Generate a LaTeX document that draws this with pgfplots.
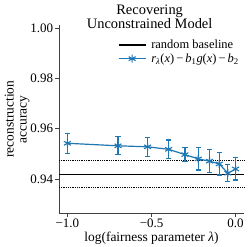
\documentclass[border=0pt]{standalone}
\usepackage{fontspec}
\setmainfont{Liberation Serif}
\usepackage{pgfplots}
\pgfplotsset{compat=1.18}
\definecolor{mblue}{HTML}{1F77B4}
\begin{document}
\begin{tikzpicture}
\path[use as bounding box] (-59bp,-34bp) rectangle (190bp,213bp);
\begin{axis}[
  scale only axis,
  width=185bp, height=187.5bp,
  xmin=-1.05, xmax=0.05,
  ymin=0.9265, ymax=1.001,
  axis x line*=bottom, axis y line*=left,
  axis line style={-, line width=0.6pt, black!75},
  tick align=outside,
  tick style={black!75, line width=0.6pt},
  major tick length=3.5bp,
  xtick={-1,-0.5,0}, xticklabels={−1.0,−0.5,0.0},
  ytick={0.94,0.96,0.98,1.0}, yticklabels={0.94,0.96,0.98,1.00},
  ticklabel style={font=\fontsize{13}{14}\selectfont},
  xticklabel style={yshift=1bp},
  yticklabel style={xshift=1bp},
  xlabel={log(fairness parameter \textit{λ})},
  ylabel={reconstruction\\accuracy},
  label style={font=\fontsize{13.5}{13}\selectfont, align=center},
  xlabel style={yshift=3bp},
  ylabel style={yshift=-6bp},
  title={Recovering\\Unconstrained Model},
  title style={font=\fontsize{14.5}{12.5}\selectfont, align=center, at={(axis description cs:0.49,1.0)}, anchor=south, yshift=-13bp},
  legend style={draw=none, fill=none, at={(axis description cs:1.0,0.945)}, anchor=north east, font=\fontsize{12.5}{12}\selectfont, row sep=-0.5pt, column sep=3bp},
  legend cell align=left,
  legend image code/.code={\draw[mark repeat=2,mark phase=2,#1] plot coordinates {(0bp,0bp) (13.5bp,0bp) (27bp,0bp)};},
  clip=false,
]
\addplot[black, line width=1.2pt, forget plot] coordinates {(-1.05,0.9419) (0.05,0.9419)};
\addplot[black, densely dotted, line width=0.8pt, forget plot] coordinates {(-1.05,0.9475) (0.05,0.9475)};
\addplot[black, densely dotted, line width=0.8pt, forget plot] coordinates {(-1.05,0.9366) (0.05,0.9366)};
\addlegendimage{black, line width=1.2pt}
\addlegendentry{random baseline}
\addplot[mblue, line width=1.2pt, mark=asterisk, mark size=4pt, mark options={line width=1.1pt},
  error bars/.cd, y dir=both, y explicit, error bar style={line width=1.1pt}, error mark options={rotate=90, mark size=2.6pt, line width=1.1pt}]
  coordinates {
  (-1.0,0.9542) +- (0,0.0039)
  (-0.699,0.9532) +- (0,0.0036)
  (-0.523,0.9528) +- (0,0.0037)
  (-0.398,0.9518) +- (0,0.0037)
  (-0.301,0.9497) +- (0,0.0027)
  (-0.222,0.9480) +- (0,0.0044)
  (-0.155,0.9471) +- (0,0.0046)
  (-0.097,0.9460) +- (0,0.0044)
  (-0.046,0.9423) +- (0,0.0034)
  (0.0,0.9440) +- (0,0.0044)
  };
\addlegendentry{\textit{r}\textsubscript{\textit{λ}}(\textit{x})\,−\,\textit{b}\textsubscript{1}\textit{g}(\textit{x})\,−\,\textit{b}\textsubscript{2}}
\end{axis}
\end{tikzpicture}
\end{document}
